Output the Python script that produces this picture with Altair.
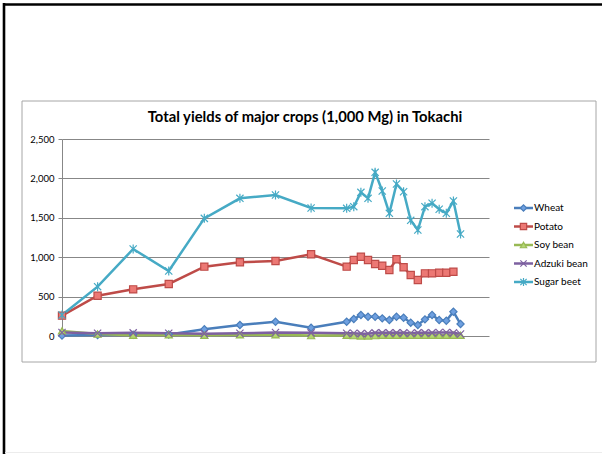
import altair as alt
import pandas as pd

years = [1960, 1965, 1970, 1975, 1980, 1985, 1990, 1995,
         2000, 2001, 2002, 2003, 2004, 2005, 2006, 2007, 2008,
         2009, 2010, 2011, 2012, 2013, 2014, 2015, 2016]

wheat = [5, 12, 15, 20, 85, 140, 181, 105,
         181, 216, 266, 245, 245, 224, 203, 245, 232,
         169, 140, 211, 266, 203, 194, 308, 152]
potato = [258, 511, 592, 660, 880, 935, 952, 1037,
          880, 964, 1006, 964, 914, 892, 838, 973, 872,
          774, 711, 795, 795, 803, 803, 816, None]
soy_bean = [65, 25, 10, 15, 10, 15, 15, 5,
            10, 5, 0, 0, 5, 10, 10, 10, 10,
            10, 10, 10, 10, 10, 10, 10, 10]
adzuki_bean = [45, 35, 40, 35, 30, 35, 45, 40,
               35, 35, 30, 30, 40, 40, 40, 40, 40,
               35, 40, 40, 40, 45, 45, 40, 25]
sugar_beet = [266, 626, 1104, 825, 1493, 1747, 1789, 1625,
              1620, 1641, 1823, 1747, 2077, 1840, 1557, 1929, 1831,
              1468, 1345, 1641, 1684, 1608, 1557, 1713, 1294]

crops = ["Wheat", "Potato", "Soy bean", "Adzuki bean", "Sugar beet"]
series = [wheat, potato, soy_bean, adzuki_bean, sugar_beet]

line_colors = ["#4A7EBB", "#BE4B48", "#98B954", "#7D60A0", "#46AAC5"]
fill_colors = ["#6FA0E0", "#EC7874", "#B4D773", "#9C7FC4", "#4BACC6"]
shapes = ["diamond", "square", "triangle-up",
          "M-1,-1L1,1M-1,1L1,-1",
          "M-1,-1L1,1M-1,1L1,-1M0,-1.25L0,1.25"]

title_text = "Total yields of major crops (1,000 Mg) in Tokachi"
FONT = "Lato"

rows = []
for crop, vals in zip(crops, series):
    for y, v in zip(years, vals):
        if v is not None:
            rows.append({"Year": y, "Crop": crop, "Value": v})
df = pd.DataFrame(rows)
legend_df = pd.DataFrame({"Crop": crops})
one = pd.DataFrame({"k": [0]})

xscale = alt.Scale(domain=[1960, 2020], nice=False)
yscale = alt.Scale(domain=[0, 2500], nice=False)
color_scale = alt.Scale(domain=crops, range=line_colors)
fill_scale = alt.Scale(domain=crops, range=fill_colors)
shape_scale = alt.Scale(domain=crops, range=shapes)
leg_y = alt.Scale(type="point", domain=crops, range=[69, 143], padding=0)

x_enc = alt.X("Year:Q", scale=xscale, title=None,
              axis=alt.Axis(values=[1960, 1970, 1980, 1990, 2000, 2010, 2020],
                            format="d", grid=False, tickSize=3,
                            tickColor="#878787", domainColor="#878787",
                            labelFont=FONT, labelFontSize=9.5, labelColor="#000000",
                            labelPadding=5))

lines = alt.Chart(df).mark_line(strokeWidth=2.5).encode(
    x=x_enc,
    y=alt.Y("Value:Q", scale=yscale, title=None,
            axis=alt.Axis(values=[0, 500, 1000, 1500, 2000, 2500], format=",d",
                          grid=True, gridColor="#878787", gridWidth=1,
                          tickSize=4, tickColor="#878787", domainColor="#878787",
                          labelFont=FONT, labelFontSize=9.5, labelColor="#000000",
                          labelPadding=4)),
    color=alt.Color("Crop:N", scale=color_scale, legend=None),
    detail="Crop:N",
)

points = alt.Chart(df).mark_point(filled=True, opacity=1, strokeWidth=1.2, size=52).encode(
    x=alt.X("Year:Q", scale=xscale, axis=None),
    y=alt.Y("Value:Q", scale=yscale, axis=None),
    fill=alt.Fill("Crop:N", scale=fill_scale, legend=None),
    stroke=alt.Stroke("Crop:N", scale=color_scale, legend=None),
    shape=alt.Shape("Crop:N", scale=shape_scale, legend=None),
)

leg_lines = alt.Chart(legend_df).mark_rule(strokeWidth=2.5).encode(
    x=alt.value(452), x2=alt.value(471),
    y=alt.Y("Crop:N", scale=leg_y, axis=None),
    color=alt.Color("Crop:N", scale=color_scale, legend=None),
)
leg_points = alt.Chart(legend_df).mark_point(filled=True, opacity=1, strokeWidth=1.2, size=40).encode(
    x=alt.value(461.5),
    y=alt.Y("Crop:N", scale=leg_y, axis=None),
    fill=alt.Fill("Crop:N", scale=fill_scale, legend=None),
    stroke=alt.Stroke("Crop:N", scale=color_scale, legend=None),
    shape=alt.Shape("Crop:N", scale=shape_scale, legend=None),
)
leg_text = alt.Chart(legend_df).mark_text(align="left", baseline="middle", font=FONT,
                                          fontSize=10, color="#000000").encode(
    x=alt.value(472),
    y=alt.Y("Crop:N", scale=leg_y, axis=None),
    text="Crop:N",
)

box = alt.Chart(one).mark_rect(fillOpacity=0, stroke="#a6a6a6", strokeWidth=1).encode(
    x=alt.value(-40), x2=alt.value(534), y=alt.value(-38), y2=alt.value(223))
black_left = alt.Chart(one).mark_rule(color="#000000", strokeWidth=2.6).encode(
    x=alt.value(-58), y=alt.value(-136), y2=alt.value(315))
black_top = alt.Chart(one).mark_rule(color="#000000", strokeWidth=2.6).encode(
    y=alt.value(-134.5), x=alt.value(-59), x2=alt.value(540))
bottom_line = alt.Chart(one).mark_rule(color="#ececec", strokeWidth=1).encode(
    y=alt.value(313.5), x=alt.value(-57), x2=alt.value(540))
title = alt.Chart(one).mark_text(font=FONT, fontSize=14.8, fontWeight="bold",
                                 align="center", baseline="middle", color="#000000").encode(
    x=alt.value(243), y=alt.value(-21), text=alt.value(title_text))

chart = alt.layer(
    box, black_left, black_top, bottom_line, title,
    lines, points, leg_lines, leg_points, leg_text,
).resolve_scale(y="independent").properties(
    width=427, height=197,
    autosize=alt.AutoSizeParams(type="none"),
    padding={"left": 62, "top": 139, "right": 113, "bottom": 118},
    background="#ffffff",
).configure_view(strokeWidth=0)

chart.save("out.html", embed_options={"renderer": "svg", "actions": False})
